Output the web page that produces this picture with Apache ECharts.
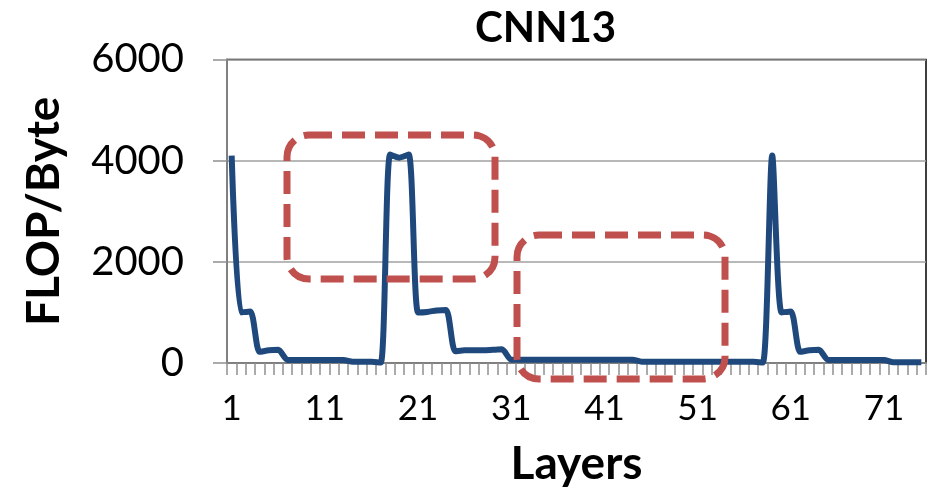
<!DOCTYPE html>
<html>
<head>
<meta charset="utf-8">
<script src="https://cdn.jsdelivr.net/npm/echarts@6/dist/echarts.min.js"></script>
<style>
html,body{margin:0;padding:0;background:#fff;}
#chart{width:928px;height:492px;}
</style>
</head>
<body>
<div id="chart"></div>
<script>
// Layers 1..75
const layers = Array.from({length: 75}, (_, i) => String(i + 1));
// FLOP/Byte per layer
const flopPerByte = [
  4100, 1000, 1020, 220, 250, 260, 60,          // 1-7
  60, 60, 60, 60, 60, 60,                        // 8-13
  25, 25, 25, 10,                                // 14-17
  4120, 4060, 4120,                              // 18-20
  1000, 1010, 1040, 1050,                        // 21-24
  230, 250, 250, 250, 260, 270,                  // 25-30
  65, 65, 65, 65, 65, 65, 65, 65, 65, 65, 65, 65, 65, 65, // 31-44
  25, 25, 25, 25, 25, 25, 25, 25, 25, 25, 25, 25, 25,     // 45-57
  10,                                            // 58
  4100, 1000, 1020, 220, 250, 260,               // 59-64
  60, 60, 60, 60, 60, 60, 60,                    // 65-71
  15, 15, 15, 15                                 // 72-75
];
const yTicks = [0, 2000, 4000, 6000];
const titleText = 'CNN13';
const xName = 'Layers';
const yName = 'FLOP/Byte';

const FONT = 'Lato';
const chart = echarts.init(document.getElementById('chart'));
chart.setOption({
  animation: false,
  backgroundColor: '#fff',
  title: {
    text: titleText,
    left: 470, top: 2,
    textStyle: {fontFamily: FONT, fontWeight: 'bold', fontSize: 42, color: '#000'}
  },
  grid: {
    left: 227, right: 2, top: 59.5, bottom: 129,
    show: true, borderColor: '#000', borderWidth: 1.5, backgroundColor: 'transparent'
  },
  xAxis: {
    type: 'category',
    data: layers,
    boundaryGap: true,
    name: xName,
    nameLocation: 'middle',
    nameGap: 78,
    nameTextStyle: {fontFamily: FONT, fontWeight: 'bold', fontSize: 46, color: '#000'},
    axisLine: {lineStyle: {color: '#808080', width: 2}},
    axisTick: {show: true, interval: 0, length: 12, lineStyle: {color: '#909090', width: 1.5}},
    axisLabel: {
      interval: 9, margin: 28,
      fontFamily: FONT, fontSize: 35, color: '#000'
    },
    splitLine: {show: false}
  },
  yAxis: {
    type: 'value',
    min: yTicks[0], max: yTicks[yTicks.length - 1], interval: 2000,
    name: yName,
    nameLocation: 'middle',
    nameGap: 160,
    nameRotate: 90,
    nameTextStyle: {fontFamily: FONT, fontWeight: 'bold', fontSize: 46, color: '#000'},
    axisLine: {show: true, lineStyle: {color: '#808080', width: 2}},
    axisTick: {show: true, length: 14, lineStyle: {color: '#909090', width: 1.5}},
    axisLabel: {margin: 43, fontFamily: FONT, fontSize: 40, color: '#000',
      formatter: (v) => String(v)},
    splitLine: {show: true, lineStyle: {color: '#a0a0a0', width: 1.5}}
  },
  series: [{
    type: 'line',
    data: flopPerByte,
    smooth: 0.25,
    symbol: 'none',
    lineStyle: {color: '#1f497d', width: 6},
    z: 3
  }],
  graphic: [
    {
      type: 'rect', z: 100,
      shape: {x: 287, y: 135, width: 208, height: 144, r: 22},
      style: {fill: 'none', stroke: '#c0504d', lineWidth: 7, lineDash: [23, 10]}
    },
    {
      type: 'rect', z: 100,
      shape: {x: 517, y: 235, width: 208, height: 144, r: 22},
      style: {fill: 'none', stroke: '#c0504d', lineWidth: 7, lineDash: [23, 10]}
    }
  ]
});
</script>
</body>
</html>
